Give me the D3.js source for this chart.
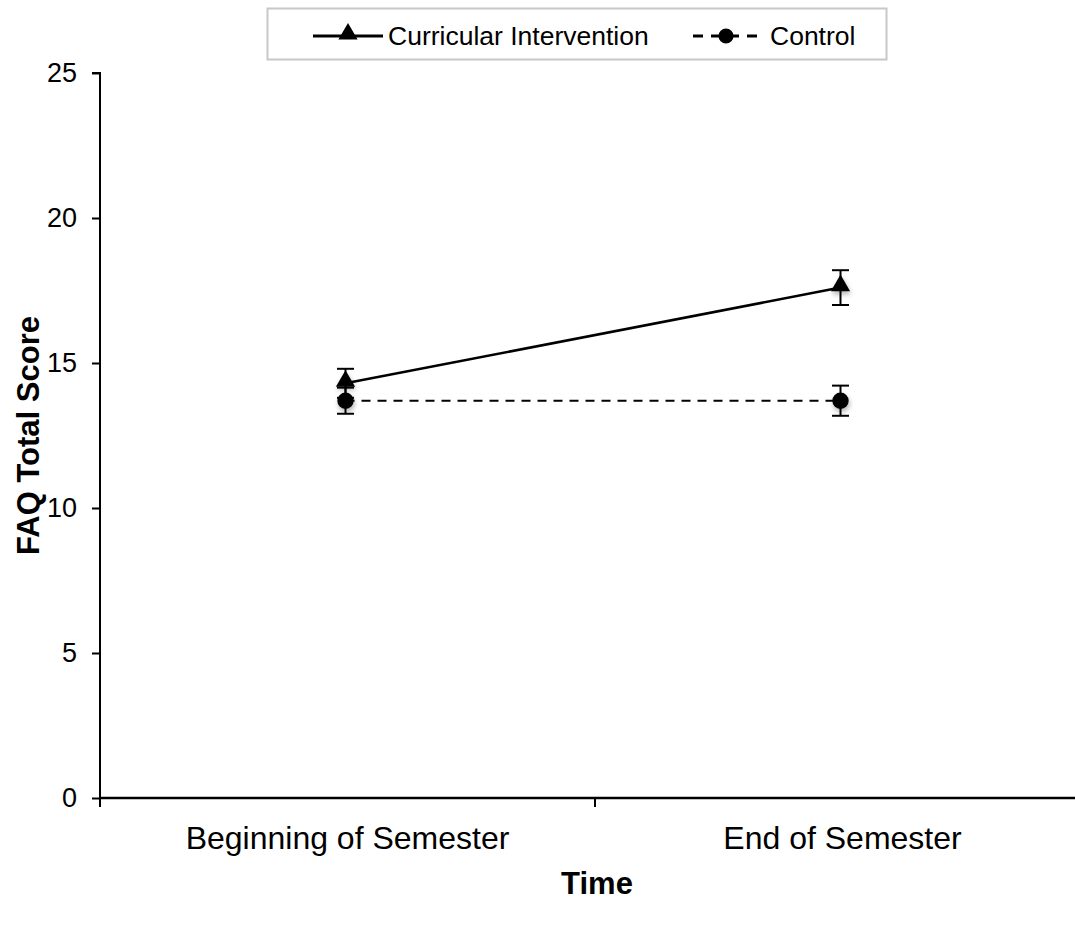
<!DOCTYPE html>
<html><head><meta charset="utf-8">
<script src="https://cdn.jsdelivr.net/npm/d3@7"></script>
<style>body{margin:0;background:#fff}svg{display:block}text{font-family:"Liberation Sans",Arial,sans-serif}</style>
</head><body><svg id="c" width="1075" height="928"></svg>
<script>
const categories = ["Beginning of Semester", "End of Semester"];
const interventionMean = [14.3, 17.6];
const interventionErr = [0.5, 0.6];
const controlMean = [13.7, 13.7];
const controlErr = [0.45, 0.52];
const yTicks = [0, 5, 10, 15, 20, 25];

const svg = d3.select("#c");
const m = {l:100, r:-15, t:73, b:130};
const W = 1075, H = 928;
const x = d3.scaleBand().domain(categories).range([m.l, W - m.r]);
const y = d3.scaleLinear().domain([0, 25]).range([H - m.b, m.t]);
const FF = "Liberation Sans, Arial, sans-serif";

const defs = svg.append("defs");
const f = defs.append("filter").attr("id","sh").attr("x","-50%").attr("y","-50%").attr("width","200%").attr("height","200%");
f.append("feGaussianBlur").attr("in","SourceAlpha").attr("stdDeviation",2.5);
f.append("feOffset").attr("dx",1).attr("dy",3).attr("result","b");
f.append("feComponentTransfer").append("feFuncA").attr("type","linear").attr("slope",0.3);
const mg = f.append("feMerge"); mg.append("feMergeNode"); mg.append("feMergeNode").attr("in","SourceGraphic");

// y axis
const ya = svg.append("g").attr("transform",`translate(${m.l},0)`)
  .call(d3.axisLeft(y).tickValues(yTicks).tickSize(8).tickPadding(15))
  .attr("font-size",27).attr("font-family",FF);
ya.select(".domain").attr("stroke","#000").attr("stroke-width",2).attr("d",`M-8,${y(25)}H0V${y(0)}`);
ya.selectAll(".tick line").attr("stroke-width",2);
ya.selectAll(".tick text").attr("fill","#000");

// x axis
const xa = svg.append("g").attr("transform",`translate(0,${y(0)})`)
  .call(d3.axisBottom(x).tickSize(0).tickPadding(28))
  .attr("font-size",32).attr("font-family",FF);
xa.select(".domain").attr("stroke","#000").attr("stroke-width",2.5).attr("d",`M${m.l},0H${W}`);
xa.selectAll(".tick text").attr("fill","#000");
const bounds = [m.l, x(categories[1])];
svg.append("g").selectAll("line").data(bounds).join("line")
  .attr("x1",d=>d).attr("x2",d=>d).attr("y1",y(0)).attr("y2",y(0)+9)
  .attr("stroke","#000").attr("stroke-width",2);

// axis titles
svg.append("text").attr("transform",`translate(39,${(y(0)+y(25))/2}) rotate(-90)`)
  .attr("text-anchor","middle").attr("font-size",31).attr("font-weight","bold").text("FAQ Total Score");
svg.append("text").attr("x",597).attr("y",894).attr("text-anchor","middle")
  .attr("font-size",31).attr("font-weight","bold").text("Time");

const cx = d => x(d) + x.bandwidth()/2 - 2;

function errbars(means, errs){
  const g = svg.append("g");
  means.forEach((v,i)=>{
    const xx = cx(categories[i]);
    g.append("line").attr("x1",xx).attr("x2",xx).attr("y1",y(v+errs[i])).attr("y2",y(v-errs[i])).attr("stroke","#000").attr("stroke-width",2);
    [v+errs[i], v-errs[i]].forEach(e=>g.append("line").attr("x1",xx-8.5).attr("x2",xx+8.5).attr("y1",y(e)).attr("y2",y(e)).attr("stroke","#000").attr("stroke-width",2));
  });
}
errbars(interventionMean, interventionErr);
errbars(controlMean, controlErr);

const line = d3.line().x((d,i)=>cx(categories[i])).y(d=>y(d));
svg.append("path").datum(controlMean).attr("d",line).attr("fill","none").attr("stroke","#000").attr("stroke-width",2).attr("stroke-dasharray","9,7");
svg.append("path").datum(interventionMean).attr("d",line).attr("fill","none").attr("stroke","#000").attr("stroke-width",2.5);

const tri = d3.symbol().type(d3.symbolTriangle).size(160);
const cir = d3.symbol().type(d3.symbolCircle).size(210);
svg.append("g").selectAll("path").data(controlMean).join("path")
  .attr("d",cir).attr("transform",(d,i)=>`translate(${cx(categories[i])},${y(d)})`).attr("fill","#000").attr("filter","url(#sh)");
svg.append("g").selectAll("path").data(interventionMean).join("path")
  .attr("d",tri).attr("transform",(d,i)=>`translate(${cx(categories[i])},${y(d)-2})`).attr("fill","#000").attr("filter","url(#sh)");

// legend
const lg = svg.append("g");
lg.append("rect").attr("x",267.5).attr("y",8.5).attr("width",619).attr("height",51).attr("fill","#fff").attr("stroke","#c8c8c8").attr("stroke-width",2);
lg.append("line").attr("x1",313).attr("x2",383).attr("y1",36).attr("y2",36).attr("stroke","#000").attr("stroke-width",3);
lg.append("path").attr("d",d3.symbol().type(d3.symbolTriangle).size(160)).attr("transform","translate(348,34)");
lg.append("text").attr("x",388).attr("y",45).attr("font-size",26.5).text("Curricular Intervention");
lg.append("line").attr("x1",693).attr("x2",760).attr("y1",36).attr("y2",36).attr("stroke","#000").attr("stroke-width",3).attr("stroke-dasharray","10,8");
lg.append("path").attr("d",d3.symbol().type(d3.symbolCircle).size(180)).attr("transform","translate(726,36)");
lg.append("text").attr("x",770).attr("y",45).attr("font-size",26.5).text("Control");
</script></body></html>
